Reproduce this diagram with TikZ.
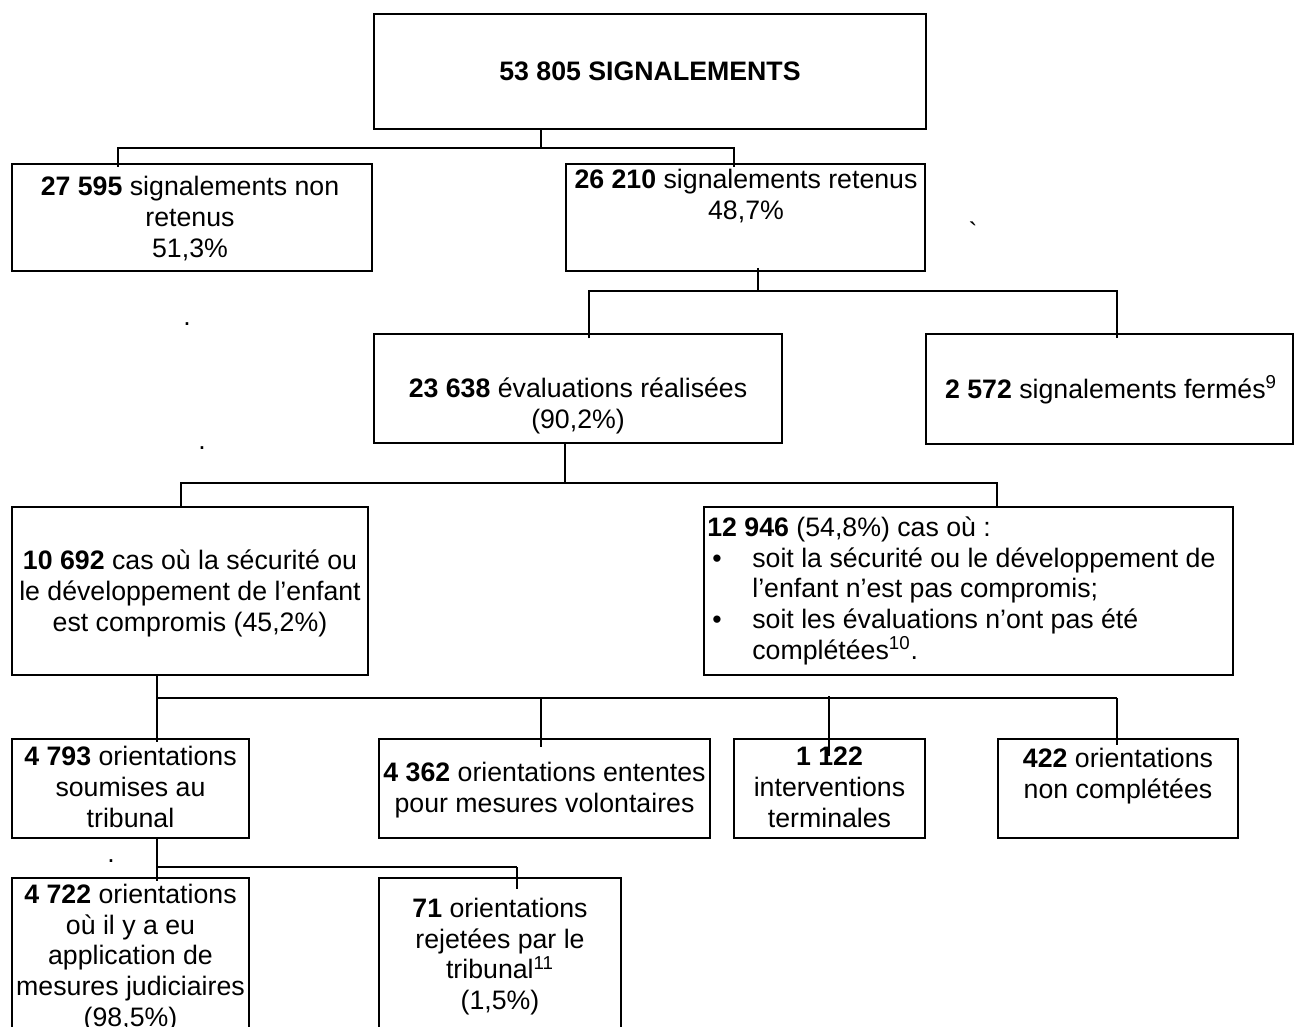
\documentclass[tikz,border=0pt]{standalone}
\usepackage{fontspec}
\setmainfont{Liberation Sans}
\usetikzlibrary{calc}

\begin{document}
\begin{tikzpicture}[x=0.02cm, y=-0.02cm,
    box/.style={draw, line width=1.1pt, inner sep=0pt},
    txt/.style={inner sep=0pt, anchor=base, align=center, font=\fontsize{15.2}{17.4}\selectfont},
    link/.style={line width=0.6pt},
    bus/.style={line width=1.1pt},
    strayglyph/.style={inner sep=0pt, font=\fontsize{15.2}{17.4}\selectfont}]
  \clip (0,0) rectangle (1294,1027);
  % boxes
  \node[box, minimum width=11.04cm, minimum height=2.30cm] (signal) at (650,71.5) {};
  \node[box, minimum width=7.20cm, minimum height=2.14cm] (nonret) at (192,217.5) {};
  \node[box, minimum width=7.18cm, minimum height=2.14cm] (retenus) at (745.5,217.5) {};
  \node[box, minimum width=8.16cm, minimum height=2.18cm] (evals) at (578,388.5) {};
  \node[box, minimum width=7.34cm, minimum height=2.20cm] (fermes) at (1109.5,389) {};
  \node[box, minimum width=7.12cm, minimum height=3.36cm] (compromis) at (190,591) {};
  \node[box, minimum width=10.58cm, minimum height=3.36cm] (noncomp) at (968.5,591) {};
  \node[box, minimum width=4.74cm, minimum height=1.98cm] (tribunal) at (130.5,788.5) {};
  \node[box, minimum width=6.62cm, minimum height=1.98cm] (volont) at (544.5,788.5) {};
  \node[box, minimum width=3.82cm, minimum height=1.98cm] (termin) at (829.5,788.5) {};
  \node[box, minimum width=4.80cm, minimum height=1.98cm] (orientnc) at (1118,788.5) {};
  \node[box, minimum width=4.74cm, minimum height=3.64cm] (judic) at (130.5,969) {};
  \node[box, minimum width=4.84cm, minimum height=3.64cm] (rejet) at (500,969) {};

  % texts (base = last line)
  \node[txt] (signal-t) at (650,81) {\textbf{53 805 SIGNALEMENTS}};
  \node[txt] (nonret-t) at (190,257) {\textbf{27 595} signalements non\\retenus\\51,3\%};
  \node[txt] (retenus-t) at (746,219.5) {\textbf{26 210} signalements retenus\\48,7\%};
  \node[txt] (evals-t) at (578,428.5) {\textbf{23 638} évaluations réalisées\\(90,2\%)};
  \node[txt] (fermes-t) at (1111,398) {\textbf{2 572} signalements fermés\textsuperscript{9}};
  \node[txt] (compromis-t) at (190,631) {\textbf{10 692} cas où la sécurité ou\\le développement de l’enfant\\est compromis (45,2\%)};
  \node[txt, anchor=base west, align=left] (noncomp-t) at (707,659) {\textbf{12 946} (54,8\%) cas où :\\
    \makebox[0.9cm][l]{\hspace{0.1cm}\textbullet}soit la sécurité ou le développement de\\
    \hspace*{0.9cm}l’enfant n’est pas compromis;\\
    \makebox[0.9cm][l]{\hspace{0.1cm}\textbullet}soit les évaluations n’ont pas été\\
    \hspace*{0.9cm}complétées\textsuperscript{10}.};
  \node[txt] (tribunal-t) at (130.5,827) {\textbf{4 793} orientations\\soumises au\\tribunal};
  \node[txt] (volont-t) at (544.5,812.5) {\textbf{4 362} orientations ententes\\pour mesures volontaires};
  \node[txt] (termin-t) at (829.5,827) {\textbf{1 122}\\interventions\\terminales};
  \node[txt] (orientnc-t) at (1118,798.5) {\textbf{422} orientations\\non complétées};
  \node[txt] (judic-t) at (130.5,1026) {\textbf{4 722} orientations\\où il y a eu\\application de\\mesures judiciaires\\(98,5\%)};
  \node[txt] (rejet-t) at (500,1009.5) {\textbf{71} orientations\\rejetées par le\\tribunal\textsuperscript{11}\\(1,5\%)};

  % stray marks
  \node[strayglyph, anchor=base] (mk1) at (187,325) {.};
  \node[strayglyph, anchor=base] (mk2) at (202,449) {.};
  \node[strayglyph, anchor=base] (mk3) at (111,862) {.};
  \node[strayglyph] (mk4) at (973,232) {\textasciigrave};

  % connectors
  \coordinate (s1) at (541,148);
  \coordinate (s1l) at (118,148);
  \coordinate (s1r) at (734,148);
  \draw[link] (signal.south -| s1) -- (s1);
  \draw[link, shorten <=-2pt, shorten >=-2pt] (nonret.north -| s1l) |- (s1r) -- (retenus.north -| s1r);

  \coordinate (s2) at (758,291);
  \coordinate (s2l) at (589,291);
  \coordinate (s2r) at (1117,291);
  \draw[link, shorten <=-2.3pt] (retenus.south -| s2) -- (s2);
  \draw[link, shorten <=-3pt, shorten >=-3pt] (evals.north -| s2l) |- (s2r) -- (fermes.north -| s2r);

  \coordinate (s3) at (565,483);
  \coordinate (s3l) at (181,483);
  \coordinate (s3r) at (997,483);
  \draw[link] (evals.south -| s3) -- (s3);
  \draw[link] (compromis.north -| s3l) |- (s3r) -- (noncomp.north -| s3r);

  \coordinate (s4) at (157,698);
  \coordinate (s4a) at (541,698);
  \coordinate (s4b) at (829,698);
  \coordinate (s4r) at (1117,698);
  \draw[link, shorten >=-2.5pt] (compromis.south -| s4) -- (tribunal.north -| s4);
  \draw[bus] (s4) -- (s4r);
  \draw[link, shorten >=-5pt] (s4a) -- (volont.north -| s4a);
  \draw[link, shorten <=-1pt, shorten >=-10pt] (s4b) -- (termin.north -| s4b);
  \draw[link, shorten >=-4pt] (s4r) -- (orientnc.north -| s4r);

  \coordinate (s5) at (157,867);
  \coordinate (s5r) at (517,867);
  \draw[link, shorten >=-2pt] (tribunal.south -| s5) -- (judic.north -| s5);
  \draw[bus] (s5) -- (s5r);
  \draw[link, shorten >=-7pt] (s5r) -- (rejet.north -| s5r);
\end{tikzpicture}
\end{document}
